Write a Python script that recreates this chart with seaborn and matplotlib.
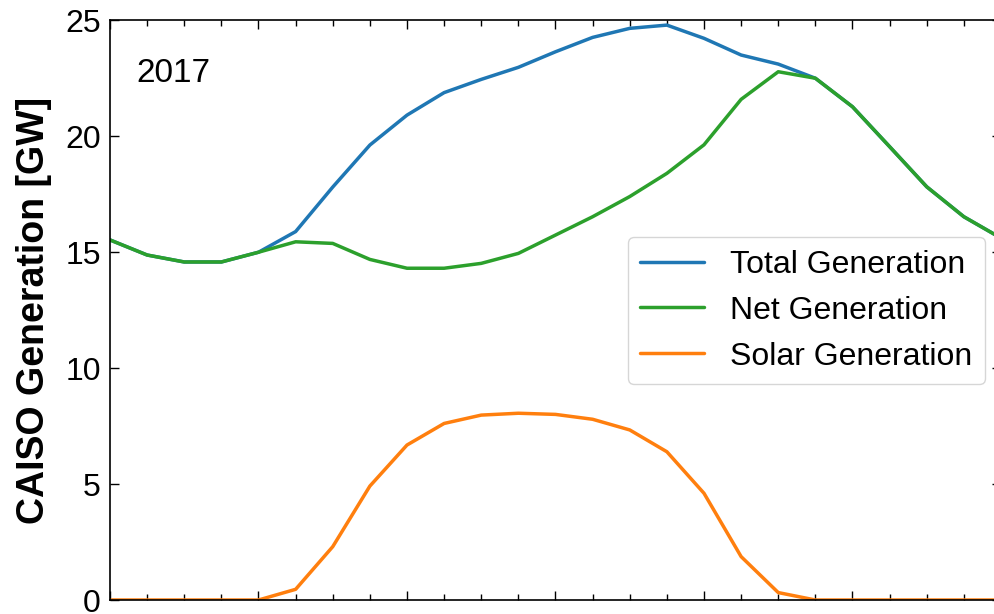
#!/usr/bin/python
'''
    CAISO generation profile for 2017: total, net and solar generation by hour
'''
import matplotlib
matplotlib.use('Agg')
import matplotlib.pyplot as plt
from matplotlib.ticker import MultipleLocator
import pandas as pd
import seaborn as sns

#Data (GW, read per hour of day)
HOURS = list(range(25))
TOTAL_GEN = [15.52, 14.87, 14.57, 14.57, 14.99, 15.88, 17.80, 19.61, 20.90,
             21.87, 22.44, 22.96, 23.63, 24.25, 24.64, 24.78, 24.21, 23.49,
             23.10, 22.49, 21.26, 19.54, 17.81, 16.52, 15.60]
NET_GEN = [15.52, 14.87, 14.57, 14.57, 14.99, 15.44, 15.37, 14.68, 14.30,
           14.30, 14.51, 14.94, 15.73, 16.52, 17.39, 18.39, 19.62, 21.58,
           22.77, 22.49, 21.26, 19.54, 17.81, 16.52, 15.60]
SOLAR_GEN = [0.0, 0.0, 0.0, 0.0, 0.0, 0.46, 2.30, 4.91, 6.68, 7.61, 7.97,
             8.05, 8.00, 7.79, 7.33, 6.39, 4.60, 1.87, 0.32, 0.0, 0.0, 0.0,
             0.0, 0.0, 0.0]
LABELS = ['Total Generation', 'Net Generation', 'Solar Generation']
COLORS = ['#1f77b4', '#2ca02c', '#ff7f0e']
YEAR = '2017'


def main():
    '''main'''
    sns.set_style('ticks')
    plt.rcParams['font.family'] = ['Liberation Sans', 'DejaVu Sans']
    plt.rcParams['text.color'] = 'black'
    plt.rcParams['axes.labelcolor'] = 'black'
    plt.rcParams['axes.edgecolor'] = 'black'
    plt.rcParams['xtick.color'] = 'black'
    plt.rcParams['ytick.color'] = 'black'

    gen_df = pd.DataFrame({'Hour': HOURS,
                           LABELS[0]: TOTAL_GEN,
                           LABELS[1]: NET_GEN,
                           LABELS[2]: SOLAR_GEN})
    long_df = gen_df.melt(id_vars='Hour', var_name='Series', value_name='GW')

    fig = plt.figure(figsize=(9.95, 6.14), dpi=100)
    axes = fig.add_axes([110 / 995, 14 / 614, 891 / 995, 580 / 614])
    sns.lineplot(data=long_df, x='Hour', y='GW', hue='Series',
                 hue_order=LABELS, palette=COLORS, linewidth=2.5, ax=axes)

    axes.set_xlim(0, 24)
    axes.set_ylim(0, 25)
    axes.xaxis.set_major_locator(MultipleLocator(4))
    axes.xaxis.set_minor_locator(MultipleLocator(1))
    axes.yaxis.set_major_locator(MultipleLocator(5))
    axes.tick_params(which='both', direction='in', top=True, right=True,
                     width=1.0, labelsize=23, labelbottom=False)
    axes.tick_params(which='major', length=6.5, pad=6.5)
    axes.tick_params(which='minor', length=4)
    for spine in axes.spines.values():
        spine.set_linewidth(1.2)

    # x labels sit below the visible frame, so leave them off
    axes.set_xlabel('')
    axes.set_ylabel('CAISO Generation [GW]', fontsize=27, fontweight='bold')
    axes.yaxis.set_label_coords(-0.065, 0.5)

    axes.text(0.03, 0.893, YEAR, transform=axes.transAxes, fontsize=24,
              va='baseline', ha='left')

    axes.legend(loc='upper left', bbox_to_anchor=(0.581, 0.626),
                borderaxespad=0, fontsize=23, frameon=True,
                handlelength=2.0, title=None)

    fig.savefig('out.png', dpi=100)


if __name__ == '__main__':
    main()
